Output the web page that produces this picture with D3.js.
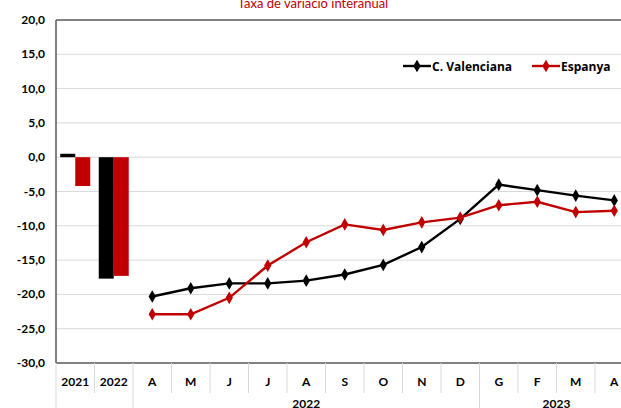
<!DOCTYPE html>
<html>
<head>
<meta charset="utf-8">
<script src="https://cdn.jsdelivr.net/npm/d3@7"></script>
<style>
  body { margin: 0; background: #fff; }
  svg { display: block; font-family: Lato, "Open Sans", sans-serif; }
</style>
</head>
<body>
<div id="chart"></div>
<script>
// chart data
const categories = ['2021', '2022', 'A', 'M', 'J', 'J', 'A', 'S', 'O', 'N', 'D', 'G', 'F', 'M', 'A'];
const yearGroups = [
  { label: '2022', from: 2, to: 10 },
  { label: '2023', from: 11, to: 14 }
];
const barCats = [0, 1];
const cvBars = [0.5, -17.7];
const esBars = [-4.2, -17.3];
const cvLine = [-20.3, -19.1, -18.4, -18.4, -18.0, -17.1, -15.7, -13.1, -9.0, -4.0, -4.8, -5.6, -6.3];
const esLine = [-22.9, -22.9, -20.5, -15.8, -12.4, -9.8, -10.6, -9.5, -8.8, -7.0, -6.5, -8.0, -7.8];
const yTicks = [20, 15, 10, 5, 0, -5, -10, -15, -20, -25, -30];
const seriesNames = ['C. Valenciana', 'Espanya'];
const colors = ['#000000', '#c00000'];

const width = 621, height = 408;
const margin = { left: 56, top: 20, bottom: 45 };
const plotW = 38.5 * categories.length;

const svg = d3.select('#chart').append('svg').attr('width', width).attr('height', height);

const x = d3.scaleBand().domain(d3.range(categories.length)).range([margin.left, margin.left + plotW]);
const y = d3.scaleLinear().domain([-30, 20]).range([height - margin.bottom, margin.top]);

// title
svg.append('text')
  .attr('x', 313).attr('y', 8)
  .attr('text-anchor', 'middle')
  .attr('fill', '#c00000')
  .style('font-size', '13px')
  .text('Taxa de variació interanual');

// gridlines
svg.append('g').selectAll('line')
  .data(yTicks.filter(d => d !== -30 && d !== 20))
  .join('line')
  .attr('x1', margin.left).attr('x2', width)
  .attr('y1', d => y(d)).attr('y2', d => y(d))
  .attr('stroke', '#d9d9d9').attr('stroke-width', 1);

// y axis labels
const fmt = d => d3.format('.1f')(d).replace('.', ',').replace('−', '-');
svg.append('g').selectAll('text')
  .data(yTicks)
  .join('text')
  .attr('x', 45).attr('y', d => y(d) + 4)
  .attr('text-anchor', 'end')
  .style('font-size', '12px').style('font-weight', 'bold')
  .attr('fill', '#000')
  .text(fmt);

// bars
const bw = 15;
const barG = svg.append('g');
[cvBars, esBars].forEach((vals, s) => {
  barG.selectAll(null)
    .data(vals)
    .join('rect')
    .attr('x', (d, i) => x(barCats[i]) + x.bandwidth() / 2 - bw + s * bw)
    .attr('y', d => y(Math.max(0, d)))
    .attr('width', bw)
    .attr('height', d => Math.abs(y(d) - y(0)))
    .attr('fill', colors[s]);
});

// lines
const lineStart = 2;
const line = d3.line()
  .x((d, i) => x(i + lineStart) + x.bandwidth() / 2)
  .y(d => y(d));
const diamond = d3.symbol().type(d3.symbolDiamond).size(46);
[cvLine, esLine].forEach((vals, s) => {
  svg.append('path')
    .datum(vals)
    .attr('d', line)
    .attr('fill', 'none')
    .attr('stroke', colors[s])
    .attr('stroke-width', 2.4);
  svg.append('g').selectAll('path')
    .data(vals)
    .join('path')
    .attr('d', diamond)
    .attr('transform', (d, i) => `translate(${x(i + lineStart) + x.bandwidth() / 2},${y(d)})`)
    .attr('fill', colors[s]);
});

// frame
svg.append('line')
  .attr('x1', margin.left).attr('x2', width)
  .attr('y1', y(20)).attr('y2', y(20))
  .attr('stroke', '#595959').attr('stroke-width', 1.5);
svg.append('line')
  .attr('x1', margin.left).attr('x2', width)
  .attr('y1', y(-30)).attr('y2', y(-30))
  .attr('stroke', '#595959').attr('stroke-width', 1.5);
svg.append('line')
  .attr('x1', margin.left).attr('x2', margin.left)
  .attr('y1', y(20)).attr('y2', y(-30))
  .attr('stroke', '#595959').attr('stroke-width', 1.5);

// x axis category labels and separators
const axisY = y(-30);
const xg = svg.append('g');
xg.selectAll('line.sep')
  .data(d3.range(categories.length + 1))
  .join('line')
  .attr('class', 'sep')
  .attr('x1', d => margin.left + d * x.step()).attr('x2', d => margin.left + d * x.step())
  .attr('y1', axisY).attr('y2', d => (d === 0 || d === 2 || d === 11) ? height : axisY + 30)
  .attr('stroke', '#d9d9d9');
xg.selectAll('text.cat')
  .data(categories)
  .join('text')
  .attr('class', 'cat')
  .attr('x', (d, i) => x(i) + x.bandwidth() / 2)
  .attr('y', axisY + 23)
  .attr('text-anchor', 'middle')
  .style('font-size', '12px').style('font-weight', 'bold')
  .text(d => d);
xg.selectAll('text.yr')
  .data(yearGroups)
  .join('text')
  .attr('class', 'yr')
  .attr('x', d => (x(d.from) + x(d.to) + x.bandwidth()) / 2)
  .attr('y', axisY + 45)
  .attr('text-anchor', 'middle')
  .style('font-size', '12px').style('font-weight', 'bold')
  .text(d => d.label);

// legend
const legend = svg.append('g').attr('transform', 'translate(403,66)');
const legendX = [0, 129];
seriesNames.forEach((name, s) => {
  const g = legend.append('g').attr('transform', `translate(${legendX[s]},0)`);
  g.append('line').attr('x1', 0).attr('x2', 28).attr('y1', 0).attr('y2', 0)
    .attr('stroke', colors[s]).attr('stroke-width', 2.4);
  g.append('path').attr('d', diamond).attr('transform', 'translate(14,0)').attr('fill', colors[s]);
  g.append('text').attr('x', 29).attr('y', 4.5)
    .style('font-family', '"Open Sans", sans-serif')
    .style('font-size', '12px').style('font-weight', 'bold')
    .text(name);
});
</script>
</body>
</html>
